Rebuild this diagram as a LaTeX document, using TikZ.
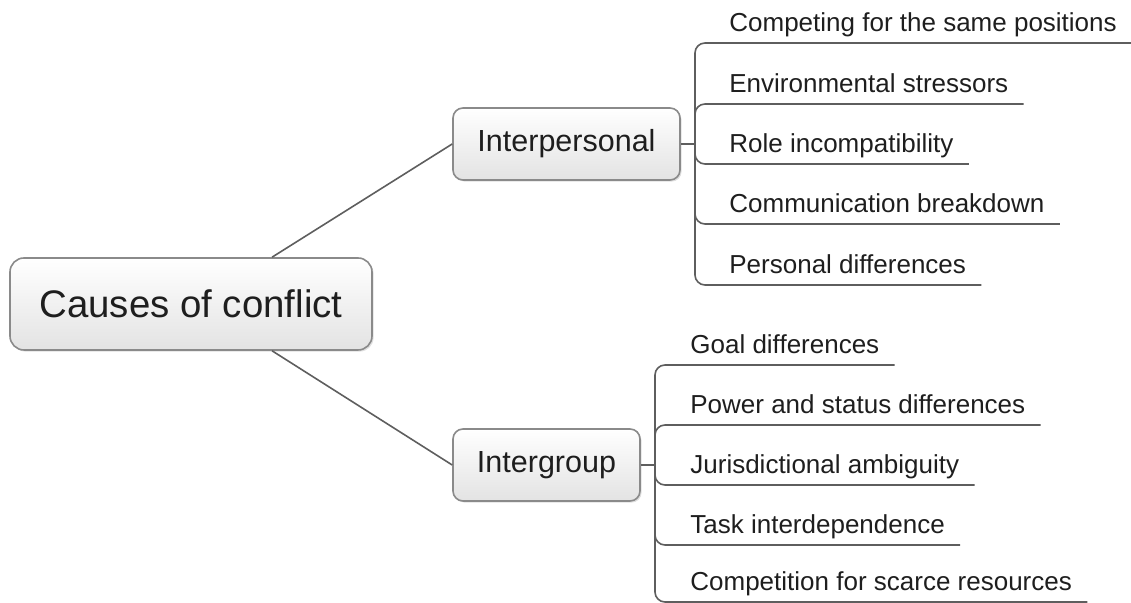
\documentclass[tikz,border=0pt]{standalone}
\usepackage{fontspec}
\setmainfont{Liberation Sans}
\usetikzlibrary{shadows,positioning}
\definecolor{linegray}{HTML}{5E5E5E}
\definecolor{boxline}{HTML}{8A8A8A}
\definecolor{txt}{HTML}{1E1E1E}

\begin{document}
\begin{tikzpicture}[
				x=0.5pt,y=-0.5pt,
				box/.style={draw=boxline,line width=0.8pt,rectangle,top color=white,bottom color=gray!22,
					drop shadow={shadow xshift=0.8pt,shadow yshift=-0.8pt,opacity=0.25},text=txt,inner sep=0pt},
				rootbox/.style={box,minimum width=181pt,minimum height=46pt,rounded corners=7pt,font=\fontsize{19.2}{23}\selectfont},
				midbox/.style={box,minimum height=36pt,rounded corners=5pt,font=\fontsize{15.25}{18}\selectfont},
				leaf/.style={anchor=south west,inner xsep=7.5pt,inner ysep=5.5pt,text depth=0pt,text=txt,font=\fontsize{13}{15.6}\selectfont},
				link/.style={draw=linegray,line width=0.8pt},
				branch/.style={link,rounded corners=5pt}
				]
				\useasboundingbox (0,0) rectangle (1131,603);
				
				% Radice e rami principali
				\node[rootbox] (root) at (191,304) {Causes of conflict};
				\node[midbox,minimum width=113.5pt] (ip) at (566.5,144) {Interpersonal};
				\node[midbox,minimum width=93.5pt] (ig) at (546.5,465) {Intergroup};
				
				\draw[link] (root.30) -- (ip.west);
				\draw[link] (root.-30) -- (ig.west);
				
				% Foglie: Interpersonal
				\coordinate (ipfork) at (695,144);
				\node[leaf] (p1) at (714,43) {Competing for the same positions\hspace{50pt}};
				\node[leaf] (p2) at (714,104) {Environmental stressors};
				\node[leaf] (p3) at (714,164) {Role incompatibility};
				\node[leaf] (p4) at (714,224) {Communication breakdown};
				\node[leaf] (p5) at (714,285) {Personal differences};
				
				\draw[link] (ip.east) -- (ipfork);
				\foreach \l in {p1,p2,p3,p4,p5}
					\draw[branch] (ipfork) |- (\l.south east);
				
				% Foglie: Intergroup
				\coordinate (igfork) at (655,465);
				\node[leaf] (g1) at (675,365) {Goal differences};
				\node[leaf] (g2) at (675,425) {Power and status differences};
				\node[leaf] (g3) at (675,485) {Jurisdictional ambiguity};
				\node[leaf] (g4) at (675,545) {Task interdependence};
				\node[leaf] (g5) at (675,602) {Competition for scarce resources};
				
				\draw[link] (ig.east) -- (igfork);
				\foreach \l in {g1,g2,g3,g4,g5}
					\draw[branch] (igfork) |- (\l.south east);
				
			\end{tikzpicture}
\end{document}
